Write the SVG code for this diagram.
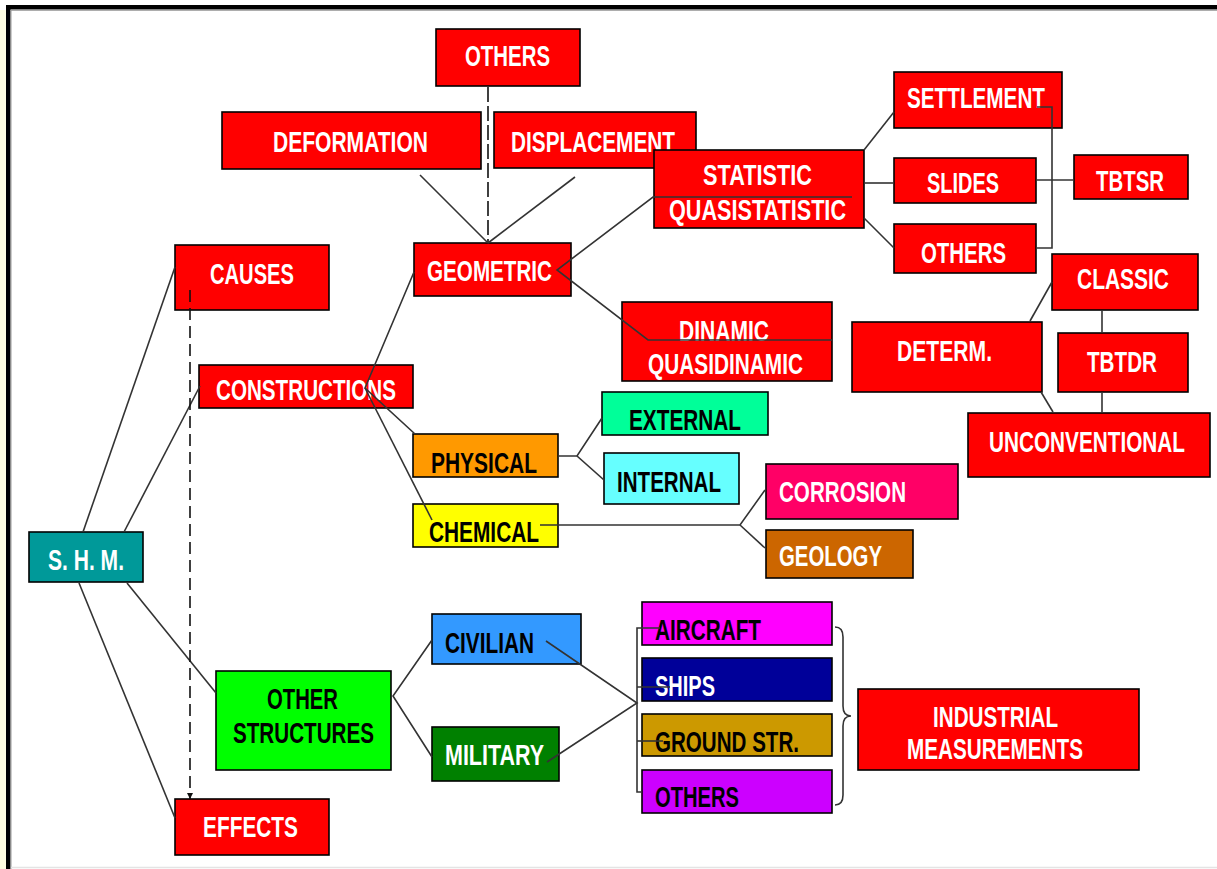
<svg xmlns="http://www.w3.org/2000/svg" width="1217" height="869" viewBox="0 0 1217 869">
  <style>
    .box { stroke: #000; stroke-width: 1.6; }
    .red { fill: #ff0000; }
    .lbl { font-family: "Liberation Sans", Arial, sans-serif; font-weight: bold; font-size: 29px; text-anchor: middle; }
    .w { fill: #ffffff; }
    .k { fill: #000000; }
    .ln { stroke: #333; stroke-width: 1.6; fill: none; }
    .dash1 { stroke: #111; stroke-width: 1.6; fill: none; stroke-dasharray: 12 6; }
    .dash2 { stroke: #111; stroke-width: 1.6; fill: none; stroke-dasharray: 15 4; }
  </style>
  <defs>
    <marker id="arrow" viewBox="0 0 10 10" refX="10" refY="5" markerWidth="6" markerHeight="6" orient="auto" markerUnits="userSpaceOnUse">
      <path d="M0,0 L10,5 L0,10 z" fill="#111"/>
    </marker>
  </defs>

  <!-- page frame -->
  <rect x="0" y="0" width="1217" height="869" fill="#ffffff"/>
  <rect x="0" y="10" width="6" height="859" fill="#fffde0"/>
  <rect x="6" y="5" width="1211" height="4.5" fill="#000"/>
  <rect x="6" y="5" width="4.5" height="864" fill="#000"/>
  <line x1="10.5" y1="10.3" x2="1217" y2="10.3" stroke="#999" stroke-width="1"/>
  <line x1="11" y1="10" x2="11" y2="869" stroke="#999" stroke-width="1"/>
  <line x1="11" y1="867.5" x2="1217" y2="867.5" stroke="#e4e4e4" stroke-width="1.5"/>

  <!-- nodes -->
  <g id="others-top"><rect class="box red" x="436" y="29" width="144" height="57"/><text class="lbl w" x="507.5" y="66" textLength="85" lengthAdjust="spacingAndGlyphs">OTHERS</text></g>
  <g id="deformation"><rect class="box red" x="222" y="112" width="259" height="57"/><text class="lbl w" x="350.5" y="152" textLength="155" lengthAdjust="spacingAndGlyphs">DEFORMATION</text></g>
  <g id="displacement"><rect class="box red" x="494" y="112" width="202" height="56"/><text class="lbl w" x="593" y="152" textLength="164" lengthAdjust="spacingAndGlyphs">DISPLACEMENT</text></g>
  <g id="statistic"><rect class="box red" x="654" y="150" width="210" height="78"/><text class="lbl w" x="757.5" y="185" textLength="109" lengthAdjust="spacingAndGlyphs">STATISTIC</text><text class="lbl w" x="757.5" y="220" textLength="177" lengthAdjust="spacingAndGlyphs">QUASISTATISTIC</text></g>
  <g id="geometric"><rect class="box red" x="414" y="243" width="157" height="53"/><text class="lbl w" x="489.5" y="281" textLength="125" lengthAdjust="spacingAndGlyphs">GEOMETRIC</text></g>
  <g id="settlement"><rect class="box red" x="894" y="72" width="168" height="56"/><text class="lbl w" x="976" y="108" textLength="138" lengthAdjust="spacingAndGlyphs">SETTLEMENT</text></g>
  <g id="slides"><rect class="box red" x="894" y="158" width="142" height="45"/><text class="lbl w" x="963" y="193" textLength="72" lengthAdjust="spacingAndGlyphs">SLIDES</text></g>
  <g id="others-right"><rect class="box red" x="894" y="224" width="142" height="49"/><text class="lbl w" x="963.5" y="263" textLength="85" lengthAdjust="spacingAndGlyphs">OTHERS</text></g>
  <g id="tbtsr"><rect class="box red" x="1074" y="155" width="114" height="44"/><text class="lbl w" x="1130" y="191" textLength="68" lengthAdjust="spacingAndGlyphs">TBTSR</text></g>
  <g id="classic"><rect class="box red" x="1052" y="254" width="146" height="56"/><text class="lbl w" x="1123" y="289" textLength="92" lengthAdjust="spacingAndGlyphs">CLASSIC</text></g>
  <g id="determ"><rect class="box red" x="852" y="322" width="190" height="70"/><text class="lbl w" x="944.5" y="361" textLength="95" lengthAdjust="spacingAndGlyphs">DETERM.</text></g>
  <g id="tbtdr"><rect class="box red" x="1058" y="333" width="130" height="59"/><text class="lbl w" x="1122" y="372" textLength="70" lengthAdjust="spacingAndGlyphs">TBTDR</text></g>
  <g id="unconventional"><rect class="box red" x="968" y="413" width="242" height="64"/><text class="lbl w" transform="translate(1087 452) scale(0.7 1)" x="0" y="0" textLength="280" lengthAdjust="spacingAndGlyphs">UNCONVENTIONAL</text></g>
  <g id="causes"><rect class="box red" x="175" y="245" width="154" height="65"/><text class="lbl w" x="252" y="284" textLength="84" lengthAdjust="spacingAndGlyphs">CAUSES</text></g>
  <g id="constructions"><rect class="box red" x="199" y="365" width="214" height="43"/><text class="lbl w" x="306" y="400" textLength="180" lengthAdjust="spacingAndGlyphs">CONSTRUCTIONS</text></g>
  <g id="dinamic"><rect class="box red" x="622" y="302" width="210" height="79"/><text class="lbl w" x="724" y="341" textLength="90" lengthAdjust="spacingAndGlyphs">DINAMIC</text><text class="lbl w" x="725.5" y="374" textLength="155" lengthAdjust="spacingAndGlyphs">QUASIDINAMIC</text></g>
  <g id="physical"><rect class="box" fill="#ff9900" x="413" y="434" width="145" height="43"/><text class="lbl k" x="484" y="473" textLength="106" lengthAdjust="spacingAndGlyphs">PHYSICAL</text></g>
  <g id="external"><rect class="box" fill="#00ff99" x="602" y="392" width="166" height="43"/><text class="lbl k" x="685" y="430" textLength="112" lengthAdjust="spacingAndGlyphs">EXTERNAL</text></g>
  <g id="internal"><rect class="box" fill="#66ffff" x="604" y="453" width="135" height="51"/><text class="lbl k" x="669" y="492" textLength="104" lengthAdjust="spacingAndGlyphs">INTERNAL</text></g>
  <g id="chemical"><rect class="box" fill="#ffff00" x="413" y="504" width="145" height="43"/><text class="lbl k" x="484" y="542" textLength="110" lengthAdjust="spacingAndGlyphs">CHEMICAL</text></g>
  <g id="corrosion"><rect class="box" fill="#ff0066" x="766" y="464" width="192" height="55"/><text class="lbl w" x="842.5" y="502" textLength="127" lengthAdjust="spacingAndGlyphs">CORROSION</text></g>
  <g id="geology"><rect class="box" fill="#cc6600" x="766" y="530" width="147" height="48"/><text class="lbl w" x="830.5" y="566" textLength="103" lengthAdjust="spacingAndGlyphs">GEOLOGY</text></g>
  <g id="shm"><rect class="box" fill="#009999" x="29" y="532" width="114" height="50"/><text class="lbl w" x="86" y="570" textLength="76" lengthAdjust="spacingAndGlyphs">S. H. M.</text></g>
  <g id="other-structures"><rect class="box" fill="#00ff00" x="216" y="671" width="175" height="99"/><text class="lbl k" x="302.5" y="709" textLength="71" lengthAdjust="spacingAndGlyphs">OTHER</text><text class="lbl k" x="303.5" y="743" textLength="141" lengthAdjust="spacingAndGlyphs">STRUCTURES</text></g>
  <g id="effects"><rect class="box red" x="175" y="799" width="154" height="56"/><text class="lbl w" x="250.5" y="837" textLength="95" lengthAdjust="spacingAndGlyphs">EFFECTS</text></g>
  <g id="civilian"><rect class="box" fill="#3399ff" x="432" y="614" width="149" height="50"/><text class="lbl k" x="489.5" y="653" textLength="89" lengthAdjust="spacingAndGlyphs">CIVILIAN</text></g>
  <g id="military"><rect class="box" fill="#008000" x="432" y="727" width="127" height="54"/><text class="lbl w" x="494.5" y="765" textLength="99" lengthAdjust="spacingAndGlyphs">MILITARY</text></g>
  <g id="aircraft"><rect class="box" fill="#ff00ff" x="642" y="602" width="190" height="43"/><text class="lbl k" x="708" y="640" textLength="106" lengthAdjust="spacingAndGlyphs">AIRCRAFT</text></g>
  <g id="ships"><rect class="box" fill="#000099" x="642" y="658" width="190" height="43"/><text class="lbl w" x="685" y="696" textLength="60" lengthAdjust="spacingAndGlyphs">SHIPS</text></g>
  <g id="ground-str"><rect class="box" fill="#cc9900" x="642" y="714" width="190" height="42"/><text class="lbl k" x="727" y="752" textLength="144" lengthAdjust="spacingAndGlyphs">GROUND STR.</text></g>
  <g id="others-bottom"><rect class="box" fill="#cc00ff" x="642" y="770" width="190" height="43"/><text class="lbl k" x="697" y="807" textLength="84" lengthAdjust="spacingAndGlyphs">OTHERS</text></g>
  <g id="industrial"><rect class="box red" x="858" y="689" width="281" height="81"/><text class="lbl w" x="995.5" y="727" textLength="125" lengthAdjust="spacingAndGlyphs">INDUSTRIAL</text><text class="lbl w" x="995" y="759" textLength="176" lengthAdjust="spacingAndGlyphs">MEASUREMENTS</text></g>

  <!-- connectors -->
  <g id="connectors">
    <!-- S.H.M. branches -->
    <line class="ln" x1="83" y1="532" x2="175" y2="267"/>
    <line class="ln" x1="124" y1="532" x2="200" y2="386"/>
    <line class="ln" x1="127" y1="583" x2="216" y2="693"/>
    <line class="ln" x1="79" y1="583" x2="175" y2="818"/>
    <!-- causes to effects -->
    <line class="dash1" x1="190" y1="290" x2="190" y2="799" marker-end="url(#arrow)"/>
    <!-- geometric family -->
    <line class="dash2" x1="488" y1="87" x2="488" y2="243"/>
    <line class="ln" x1="420" y1="175" x2="488" y2="243"/>
    <line class="ln" x1="575" y1="177" x2="488" y2="243"/>
    <polyline class="ln" points="852,197 653,197 557,270 648,340 832,340"/>
    <!-- constructions hub -->
    <polyline class="ln" points="414,272 365,388 415,434"/>
    <line class="ln" x1="365" y1="388" x2="432" y2="520"/>
    <!-- physical -->
    <polyline class="ln" points="558,456 577,456 602,418"/>
    <line class="ln" x1="577" y1="456" x2="604" y2="480"/>
    <!-- chemical -->
    <polyline class="ln" points="540,525 740,525 765,490"/>
    <line class="ln" x1="740" y1="525" x2="765" y2="548"/>
    <!-- statistic branches -->
    <line class="ln" x1="864" y1="150" x2="894" y2="112"/>
    <line class="ln" x1="864" y1="183" x2="894" y2="183"/>
    <line class="ln" x1="864" y1="218" x2="894" y2="248"/>
    <polyline class="ln" points="1037,107 1052,107 1052,248 1036,248"/>
    <line class="ln" x1="1036" y1="180" x2="1074" y2="180"/>
    <!-- determ branches -->
    <line class="ln" x1="1030" y1="321" x2="1052" y2="282"/>
    <line class="ln" x1="1041" y1="392" x2="1053" y2="412"/>
    <line class="ln" x1="1102" y1="310" x2="1102" y2="333"/>
    <line class="ln" x1="1102" y1="392" x2="1102" y2="413"/>
    <!-- other structures -->
    <polyline class="ln" points="432,640 393,696 432,757"/>
    <polyline class="ln" points="546,641 637,703 547,762"/>
    <polyline class="ln" points="660,628 637,628 637,792 642,792"/>
    <line class="ln" x1="637" y1="687" x2="670" y2="687"/>
    <line class="ln" x1="637" y1="741" x2="663" y2="741"/>
    <!-- brace -->
    <path class="ln" d="M835,627 Q843,627 843,637 L843,706 Q843,716 851,716 Q843,716 843,726 L843,795 Q843,805 835,805"/>
  </g>
</svg>
